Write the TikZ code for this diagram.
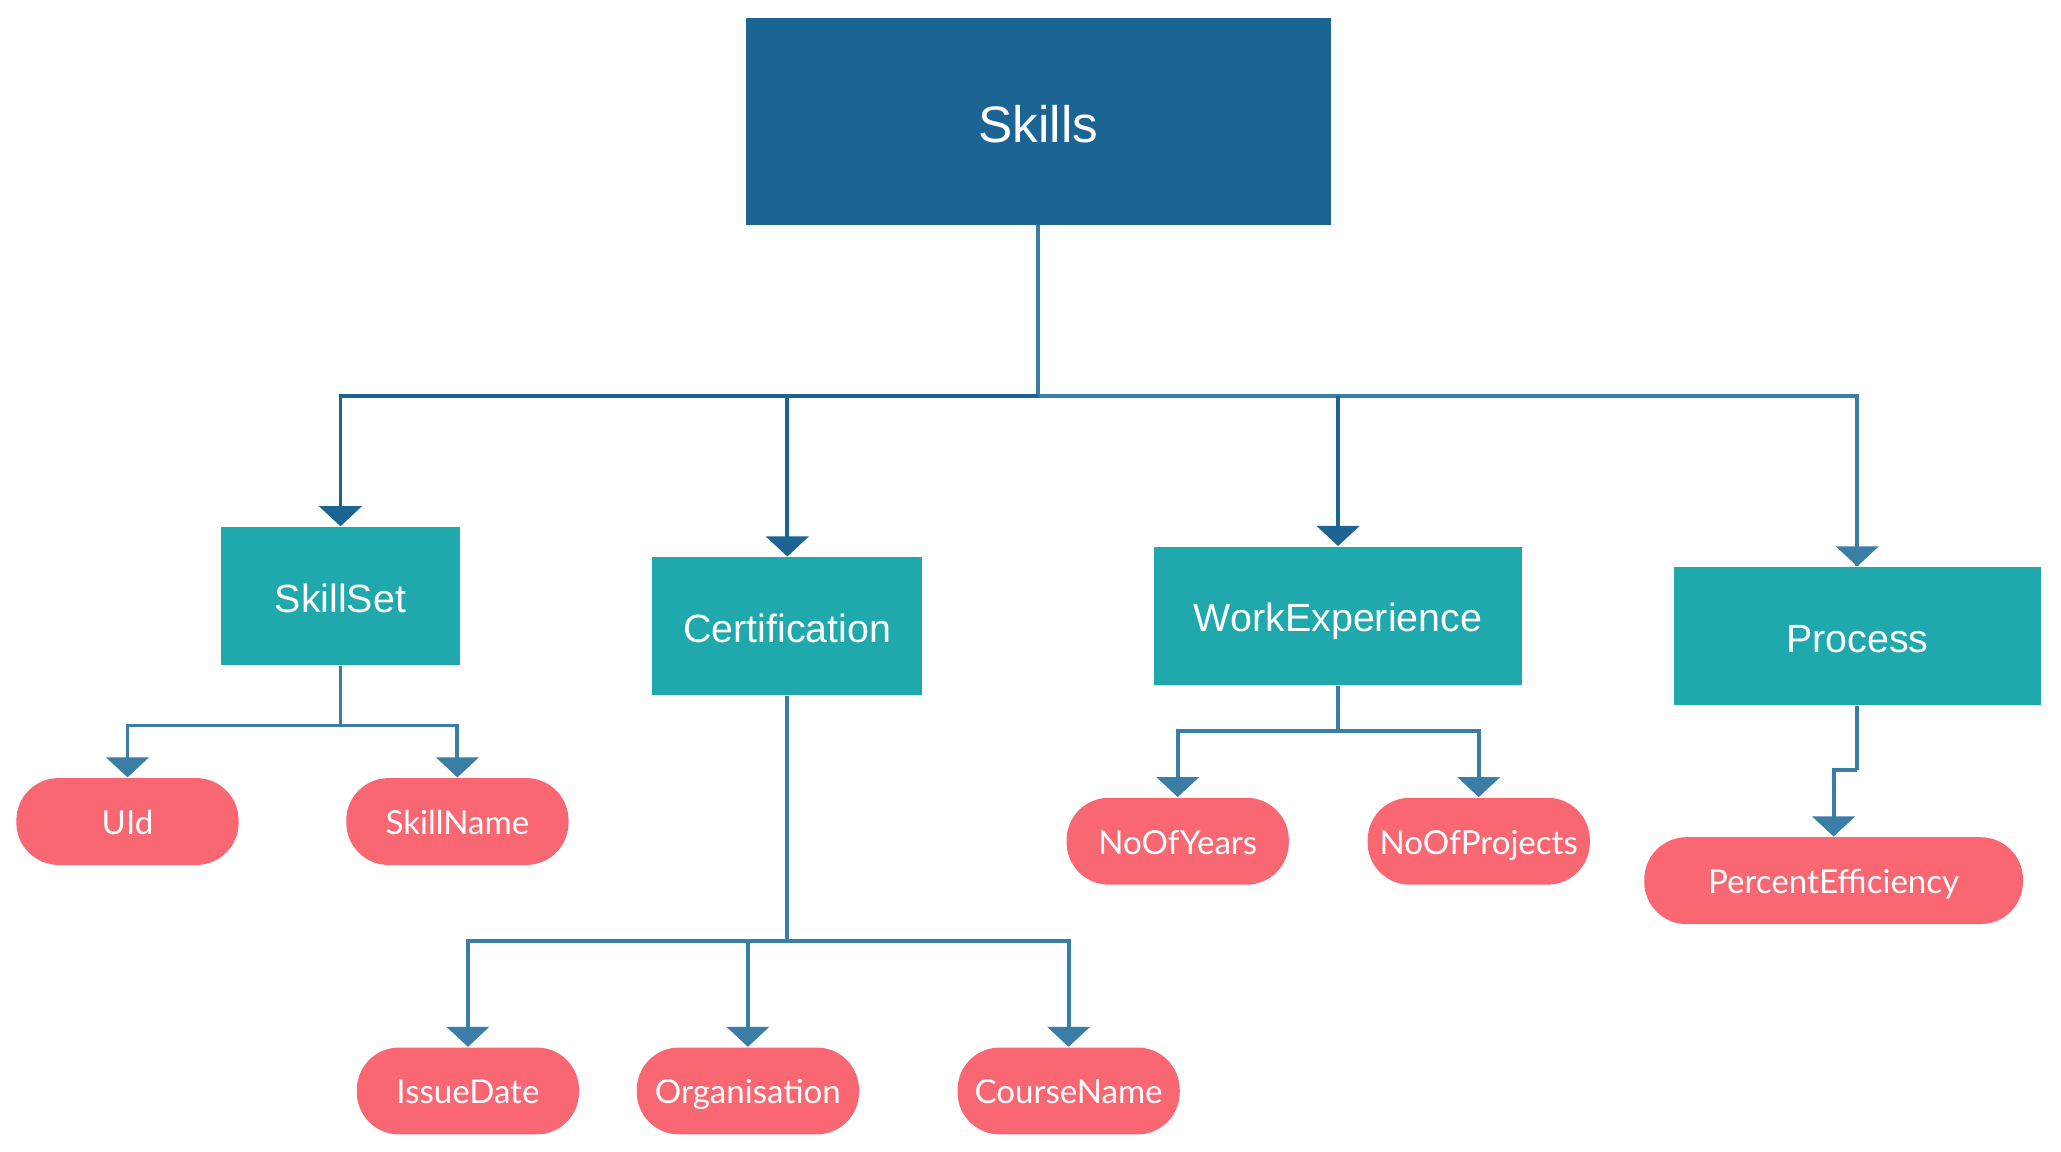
\documentclass[tikz,border=0pt]{standalone}
\usepackage{fontspec}
\setmainfont{Liberation Sans}
\newfontfamily\latofont{Lato}
\usetikzlibrary{arrows.meta}
\definecolor{topblue}{HTML}{1B6494}
\definecolor{tealbox}{HTML}{1FA9AC}
\definecolor{pinkpill}{HTML}{F96773}
\definecolor{linedark}{HTML}{1B6494}
\definecolor{linelight}{HTML}{3A7EA6}
\begin{document}
\begin{tikzpicture}[x=0.013144cm,y=-0.013144cm,
 rootbox/.style={fill=topblue, text=white, minimum width=166.4pt, minimum height=58.7pt, inner sep=0pt, text height=11.8pt, text depth=0pt, font=\fontsize{14.6}{17}\selectfont},
 entbox/.style={fill=tealbox, text=white, minimum height=39.3pt, inner sep=0pt, text height=9.2pt, text depth=0pt, font=\fontsize{11.2}{13}\selectfont},
 attr/.style={fill=pinkpill, text=white, rounded corners=12pt, minimum width=63.2pt, minimum height=24.7pt, inner sep=0pt, text height=7.4pt, text depth=0pt, font=\latofont\fontsize{9.4}{11}\selectfont},
 conn/.style={line width=1.1pt, draw=linelight},
 connd/.style={line width=1.1pt, draw=linedark},
 tipl/.style={-{Triangle[width=12pt,length=5.7pt,fill=linelight]}},
 tipd/.style={-{Triangle[width=12pt,length=5.7pt,fill=linedark]}}
]
\useasboundingbox (0,0) rectangle (1568,876);

% nodes
\node[rootbox] (skills) at (790,92.5) {Skills};
\node[entbox, minimum width=68.1pt] (ss) at (259,453.5) {SkillSet};
\node[entbox, minimum width=76.7pt] (cert) at (599,476.5) {Certification};
\node[entbox, minimum width=104.7pt] (we) at (1018,468.5) {WorkExperience};
\node[entbox, minimum width=104.3pt] (proc) at (1413,484) {Process};

\node[attr] (uid) at (97,625) {UId};
\node[attr] (sn) at (348,625) {SkillName};
\node[attr] (noy) at (896,640) {NoOfYears};
\node[attr] (nop) at (1125,640) {NoOfProjects};
\node[attr, minimum width=107.7pt] (pe) at (1395,670) {PercentEfficiency};
\node[attr] (id) at (356,830) {IssueDate};
\node[attr] (org) at (569,830) {Organisation};
\node[attr] (cn) at (813,830) {CourseName};

% bus coordinates
\coordinate (bus) at (790,301);
\coordinate (ssb) at (259,552);
\coordinate (web) at (1018,556);
\coordinate (certb) at (599,716);
\coordinate (procb) at (1413,586);

% top level
\draw[conn] (skills.south) -- (bus);
\draw[conn] (bus) -| (proc.north);
\draw[connd,tipd] (bus) -| (ss.north);
\draw[connd,tipd] (bus) -| (cert.north);
\draw[connd,tipd] (bus -| we.north) -- (we.north);
\draw[conn,tipl] (bus -| proc.north) -- (proc.north);

% SkillSet
\draw[conn] (ss.south) -- (ssb);
\draw[conn,tipl] (ssb) -| (uid.north);
\draw[conn,tipl] (ssb) -| (sn.north);

% WorkExperience
\draw[conn] (we.south) -- (web);
\draw[conn,tipl] (web) -| (noy.north);
\draw[conn,tipl] (web) -| (nop.north);

% Process
\draw[conn] (proc.south) -- (procb);
\draw[conn,tipl] (procb) -| (pe.north);

% Certification
\draw[conn] (cert.south) -- (certb);
\draw[conn,tipl] (certb) -| (id.north);
\draw[conn,tipl] (certb) -| (org.north);
\draw[conn,tipl] (certb) -| (cn.north);
\end{tikzpicture}
\end{document}
